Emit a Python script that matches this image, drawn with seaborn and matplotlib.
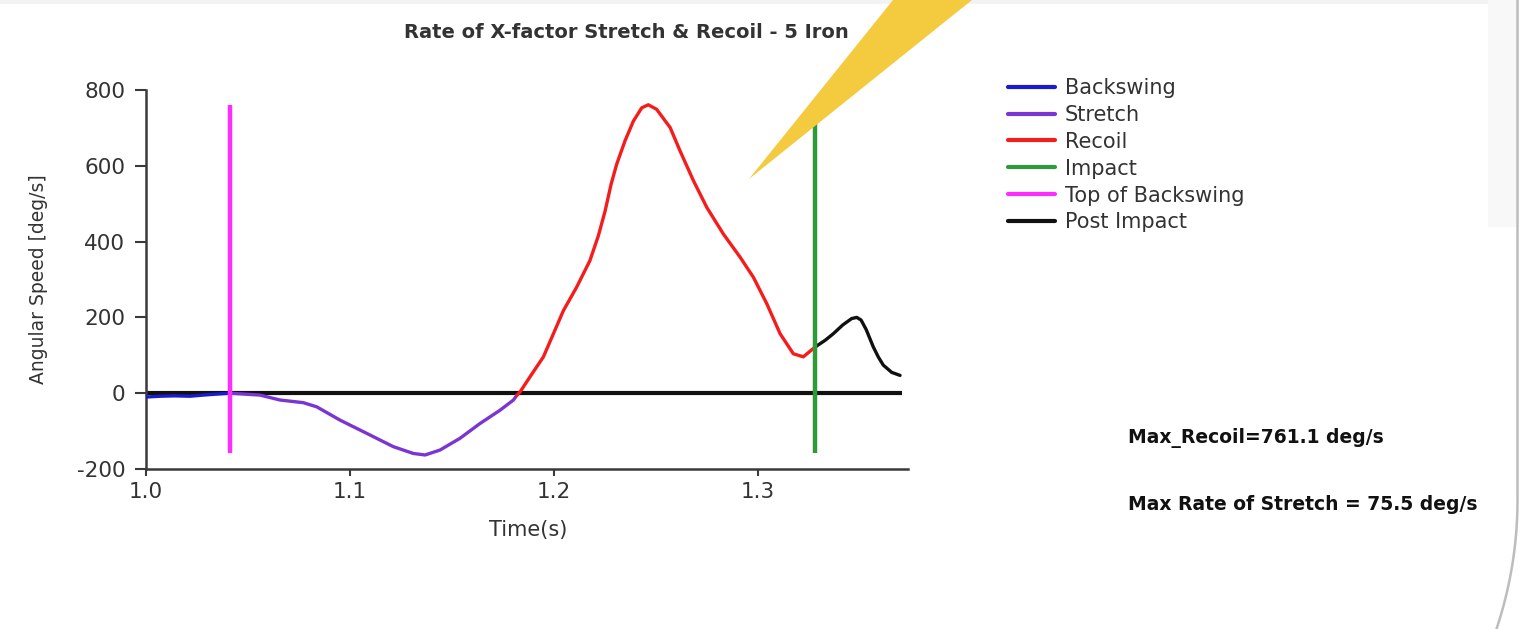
import numpy as np
import pandas as pd
import matplotlib
matplotlib.use("Agg")
import matplotlib.pyplot as plt
import seaborn as sns
from matplotlib.lines import Line2D
from matplotlib.patches import Polygon, Rectangle

# ---------------- data ----------------
backswing_t = [1.0003, 1.0069, 1.0140, 1.0216, 1.0280, 1.0330, 1.0412]
backswing_v = [-10, -8, -7, -8, -5, -3, 0]

stretch_t = [1.0412, 1.0559, 1.0657, 1.0771, 1.0837, 1.0951, 1.1082, 1.1212,
             1.1310, 1.1368, 1.1441, 1.1539, 1.1637, 1.1735, 1.1801, 1.1817]
stretch_v = [0, -5, -18, -25, -36, -71, -106, -141,
             -159, -163, -150, -119, -80, -45, -18, -6]

recoil_t = [1.1817, 1.1833, 1.1882, 1.1948, 1.1997, 1.2046, 1.2111, 1.2176,
            1.2217, 1.2250, 1.2280, 1.2307, 1.2348, 1.2389, 1.2430, 1.2462,
            1.2503, 1.2569, 1.2618, 1.2683, 1.2749, 1.2830, 1.2912, 1.2977,
            1.3043, 1.3108, 1.3173, 1.3222, 1.3271, 1.3280]
recoil_v = [-6, 3, 43, 96, 157, 218, 280, 350,
            415, 480, 552, 604, 666, 718, 753, 761,
            749, 701, 639, 561, 490, 420, 359, 306,
            236, 157, 104, 96, 118, 122]

post_t = [1.3280, 1.3330, 1.3369, 1.3415, 1.3459, 1.3484, 1.3505, 1.3530,
          1.3565, 1.3590, 1.3614, 1.3655, 1.3696]
post_v = [122, 140, 157, 180, 197, 200, 193, 168, 122, 95, 74, 55, 47]

top_of_backswing_t = 1.0412
impact_t = 1.328
marker_range = [-159, 760]

phase_names = ["Backswing", "Stretch", "Recoil", "Impact", "Top of Backswing", "Post Impact"]
phase_colors = ["#1a1ad0", "#7a35d2", "#f51c1c", "#2f9a3a", "#ff2cff", "#111111"]

title = "Rate of X-factor Stretch & Recoil - 5 Iron"
xlabel = "Time(s)"
ylabel = "Angular Speed [deg/s]"
x_ticks = [1.0, 1.1, 1.2, 1.3]
x_ticklabels = ["1.0", "1.1", "1.2", "1.3"]
y_ticks = [-200, 0, 200, 400, 600, 800]
note1 = "Max_Recoil=761.1 deg/s"
note2 = "Max Rate of Stretch = 75.5 deg/s"

# ---------------- figure ----------------
sns.set_theme(style="white")
plt.rcParams["font.family"] = ["DejaVu Sans"]
plt.rcParams["axes.unicode_minus"] = False

W, H = 1519, 629
fig = plt.figure(figsize=(W / 100, H / 100), dpi=100)
fig.patch.set_facecolor("white")

def fx(px):
    return px / W

def fy(py):
    return 1 - py / H

# background decorations (screenshot frame)
fig.patches.append(Rectangle((0, fy(4)), 1, 4 / H, transform=fig.transFigure,
                             facecolor="#f3f3f3", edgecolor="none", zorder=0))
fig.patches.append(Rectangle((fx(1488), fy(227)), 31 / W, 227 / H, transform=fig.transFigure,
                             facecolor="#f8f8f8", edgecolor="none", zorder=0))

ax = fig.add_axes([fx(146), fy(469), (908 - 146) / W, (469 - 90) / H])
ax.set_facecolor("none")

frames = []
for name, t, v in [("Backswing", backswing_t, backswing_v),
                   ("Stretch", stretch_t, stretch_v),
                   ("Recoil", recoil_t, recoil_v),
                   ("Post Impact", post_t, post_v)]:
    frames.append(pd.DataFrame({"Time": t, "Speed": v, "Phase": name}))
df = pd.concat(frames, ignore_index=True)
palette = dict(zip(phase_names, phase_colors))

ax.hlines(0, 1.0, 1.3705, color="#111111", lw=3.0, zorder=2)
sns.lineplot(data=df, x="Time", y="Speed", hue="Phase", palette=palette,
             sort=False, estimator=None, lw=2.4, ax=ax, legend=False, zorder=3)
for line in ax.lines:
    line.set_solid_joinstyle("round")
    line.set_solid_capstyle("round")
ax.vlines(top_of_backswing_t, marker_range[0], marker_range[1],
          color=palette["Top of Backswing"], lw=3.2, zorder=4)
ax.vlines(impact_t, marker_range[0], marker_range[1],
          color=palette["Impact"], lw=3.2, zorder=4)

ax.set_xlim(1.0, 1.3735)
ax.set_ylim(-200, 800)
ax.set_xticks(x_ticks)
ax.set_xticklabels(x_ticklabels)
ax.set_yticks(y_ticks)
for s in ["top", "right"]:
    ax.spines[s].set_visible(False)
for s in ["left", "bottom"]:
    ax.spines[s].set_color("#3a3a3a")
    ax.spines[s].set_linewidth(1.8)
ax.tick_params(axis="both", which="major", direction="out", width=1.5,
               color="#3a3a3a", labelsize=15.5, labelcolor="#333333",
               left=True, bottom=True)
ax.tick_params(axis="y", length=8, pad=7)
ax.tick_params(axis="x", length=5, pad=4)
ax.set_xlabel(xlabel, fontsize=15, color="#333333")
ax.set_ylabel(ylabel, fontsize=13.5, color="#333333")
ax.xaxis.set_label_coords(0.502, -0.135)
ax.yaxis.set_label_coords(-0.128, 0.5)
ax.grid(False)

fig.text(fx(626), fy(33), title, ha="center", va="center",
         fontsize=14, fontweight="bold", color="#333333")

handles = [Line2D([0], [0], color=c, lw=3) for c in phase_colors]
fig.legend(handles, phase_names, loc="upper left",
           bbox_to_anchor=(fx(1008), fy(78)), frameon=False,
           fontsize=15, labelspacing=0.33, handlelength=2.26, handletextpad=0.48,
           labelcolor="#333333", borderaxespad=0, borderpad=0)

fig.text(fx(1128), fy(438), note1, ha="left", va="center",
         fontsize=13.5, fontweight="bold", color="#111111")
fig.text(fx(1128), fy(504), note2, ha="left", va="center",
         fontsize=13.5, fontweight="bold", color="#111111")

# yellow callout pointer (on top)
tri = Polygon([(fx(749), fy(179)), (fx(893), 1.0), (fx(972), 1.0)],
              closed=True, transform=fig.transFigure, facecolor="#f4cb3f",
              edgecolor="none", zorder=10)
fig.patches.append(tri)

# rounded frame border at the right
ang = np.radians(np.linspace(0, -18.6, 40))
arc_x = [1517.5] + list(1111.5 + 406 * np.cos(ang))
arc_y = [0] + list(500 - 406 * np.sin(ang))
fig.lines.append(Line2D([fx(p) for p in arc_x], [fy(p) for p in arc_y],
                        transform=fig.transFigure, color="#bdbdbd", lw=1.8, zorder=10))

fig.savefig("out.png", dpi=100, facecolor="white")
